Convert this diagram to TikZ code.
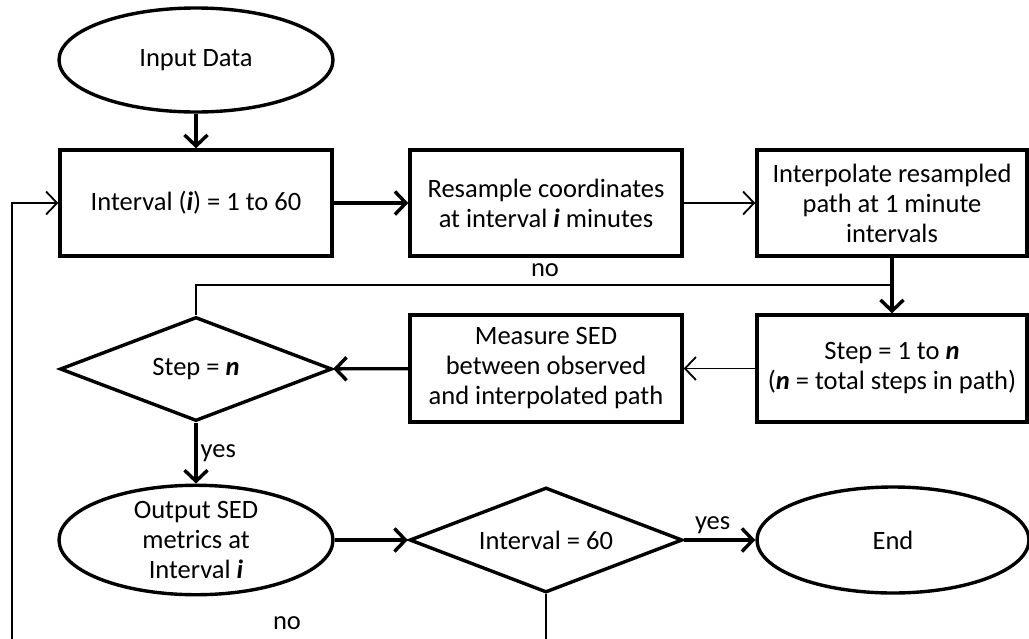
\documentclass[tikz,border=0pt]{standalone}
\usepackage{fontspec}
\setmainfont{Carlito}
\usetikzlibrary{shapes.geometric,arrows.meta}
\begin{document}
\begin{tikzpicture}[x=1pt,y=-1pt,
  every node/.style={font=\fontsize{26.5}{30}\selectfont, align=center, inner sep=0pt},
  boxshape/.style={draw, line width=3.4pt, rectangle, minimum width=272pt, minimum height=106pt},
  ovalshape/.style={draw, line width=3.4pt, ellipse, minimum width=274pt, minimum height=104pt},
  decshape/.style={draw, line width=3.4pt, diamond, minimum width=272pt, minimum height=104pt},
  thickarrow/.style={line width=3.4pt, -{Straight Barb[length=11pt,width=23pt,line width=3.4pt]}},
  thinarrow/.style={line width=1.8pt, -{Straight Barb[length=11pt,width=23pt,line width=1.8pt]}},
  thinline/.style={line width=1.8pt},
  lbl/.style={font=\fontsize{26.5}{30}\selectfont}]
\useasboundingbox (0,0) rectangle (1029,638);
\clip (0,0) rectangle (1029,638);
\node[ovalshape] (in) at (196,60) {Input Data};
\node[boxshape] (intv) at (196,203) {Interval (\textbf{\textit{i}}) = 1 to 60};
\node[boxshape] (res) at (546,203) {Resample coordinates\\at interval \textbf{\textit{i}} minutes};
\node[boxshape, minimum width=270pt] (interp) at (892,203) {Interpolate resampled\\path at 1 minute\\intervals};
\node[boxshape, minimum width=270pt, minimum height=107pt] (stepbox) at (892,368.5) {Step = 1 to \textbf{\textit{n}}\\(\textbf{\textit{n}} = total steps in path)};
\node[boxshape, minimum height=107pt] (meas) at (546,368.5) {Measure SED\\between observed\\and interpolated path};
\node[decshape] (dstep) at (196,369) {};
\node (dsteptext) at (dstep.center) {Step = \textbf{\textit{n}}};
\node[ovalshape, minimum height=106pt] (out) at (196,540) {Output SED\\metrics at\\Interval \textbf{\textit{i}}};
\node[decshape, minimum width=273pt, minimum height=105pt] (d60) at (546,540) {};
\node (d60text) at (d60.center) {Interval = 60};
\node[ovalshape, minimum width=272pt, minimum height=106pt] (endn) at (893,540) {End};
\coordinate (junc) at (892,285);
\coordinate (lowmid) at (546,660);
\coordinate (lowleft) at (12,660);
\draw[thickarrow] (in) -- (intv);
\draw[thickarrow] (intv) -- (res);
\draw[thinarrow] (res) -- (interp);
\draw[thickarrow] (interp) -- (stepbox);
\draw[thinarrow] (stepbox) -- (meas);
\draw[thickarrow] (meas) -- (dstep);
\draw[thickarrow] (dstep) -- node[lbl, right=3pt, pos=0.5] (yes1) {yes} (out);
\draw[thickarrow] (out) -- (d60);
\draw[thickarrow] (d60) -- node[lbl, above=5pt, pos=0.4] (yes2) {yes} (endn);
\draw[thinline] (dstep.north) |- (junc);
\node[lbl] (no1) at (545,270) {no};
\draw[thinline] (d60.south) -- (lowmid);
\draw[thinarrow] (lowleft) |- (intv.west);
\node[lbl] (no2) at (287,623) {no};
\end{tikzpicture}
\end{document}
